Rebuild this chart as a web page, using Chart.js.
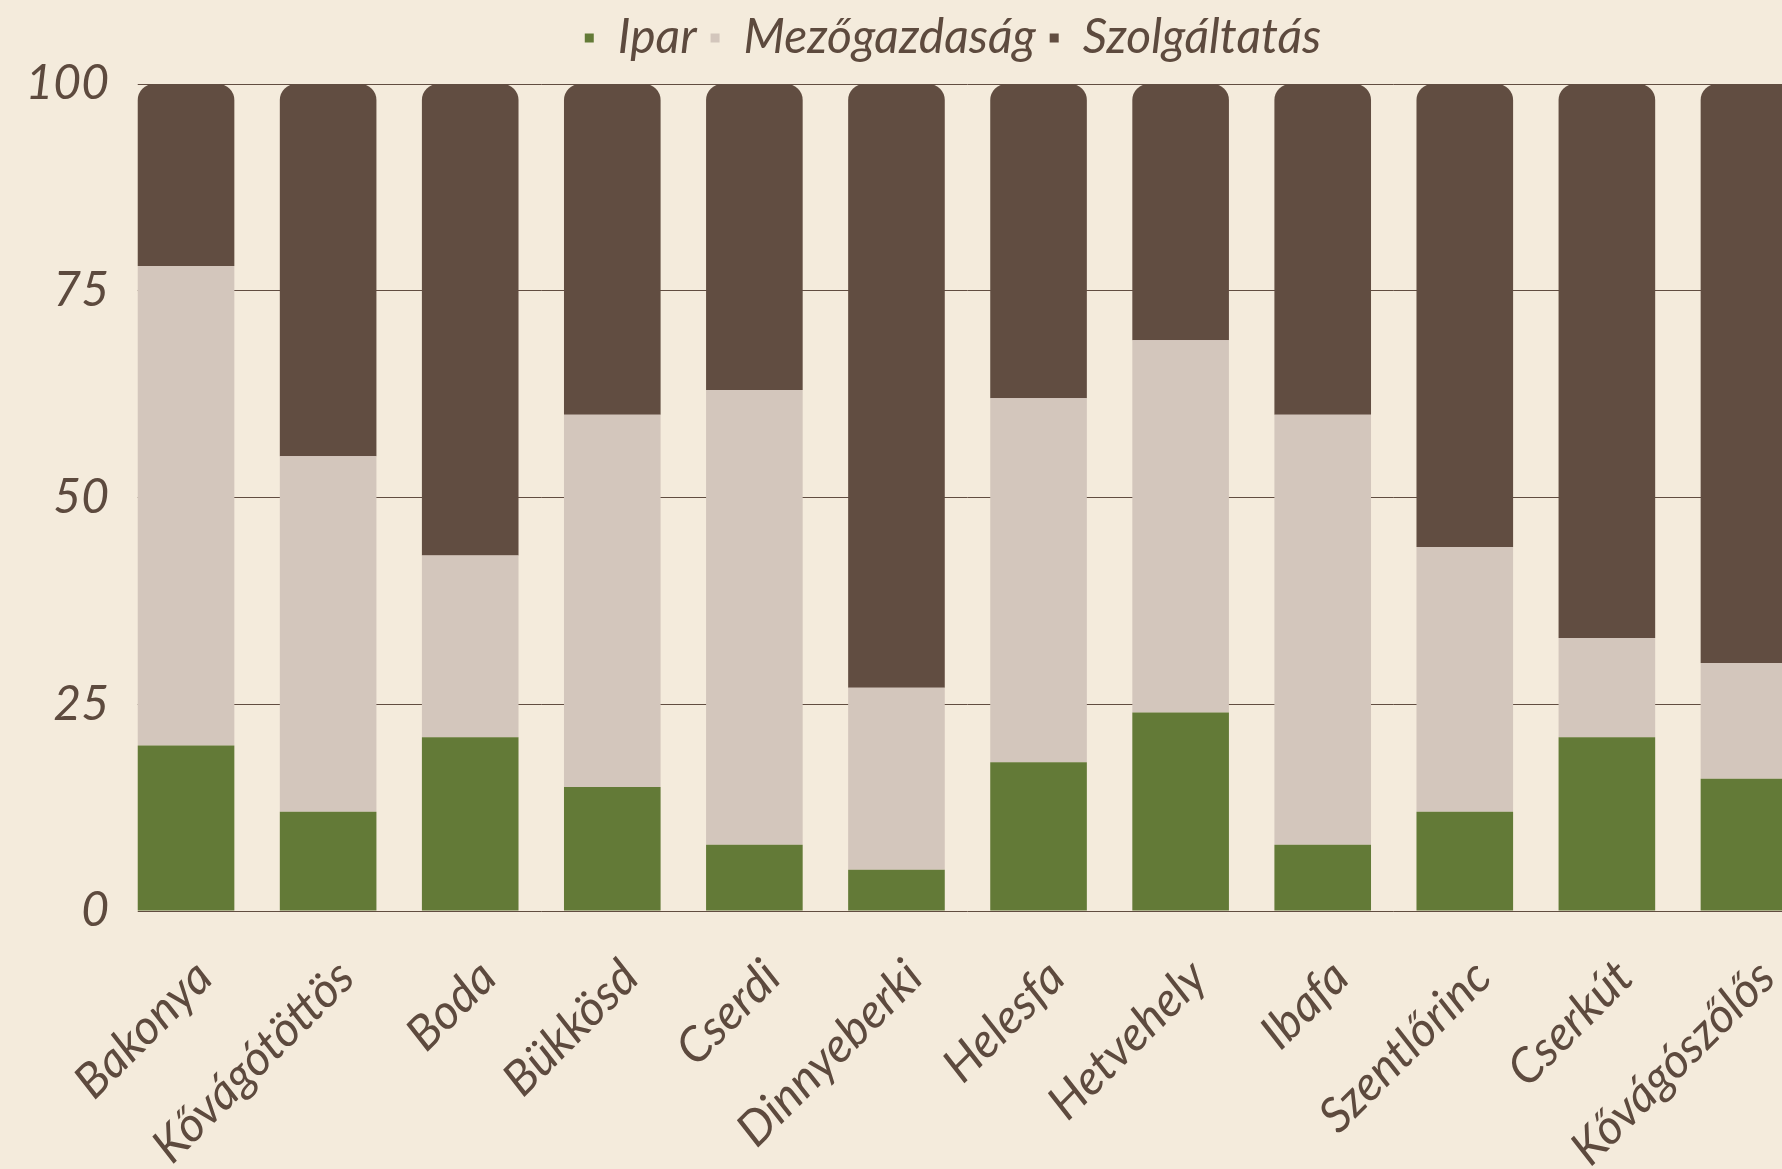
<!DOCTYPE html>
<html>
<head>
<meta charset="utf-8">
<script src="https://cdn.jsdelivr.net/npm/chart.js@4/dist/chart.umd.min.js"></script>
<style>
  html, body { margin: 0; padding: 0; background: #F4EBDC; overflow: hidden; }
  #wrap { width: 1906px; height: 1169px; position: relative; }
</style>
</head>
<body>
<div id="wrap"><canvas id="c"></canvas></div>
<script>
const categories = ["Bakonya", "Kővágótöttös", "Boda", "Bükkösd", "Cserdi", "Dinnyeberki", "Helesfa", "Hetvehely", "Ibafa", "Szentlőrinc", "Cserkút", "Kővágószőlős"];
const ipar         = [20, 12, 21, 15, 8, 5, 18, 24, 8, 12, 21, 16];
const mezogazdasag = [58, 43, 22, 45, 55, 22, 44, 45, 52, 32, 12, 14];
const szolgaltatas = [22, 45, 57, 40, 37, 73, 38, 31, 40, 56, 67, 70];
const yTicks = [0, 25, 50, 75, 100];

const TEXT = '#5D4A3E';
const FONT = 'Lato';
const FS = 48;

const tweaks = {
  id: 'tweaks',
  afterInit(chart) {
    const lg = chart.legend;
    if (lg) {
      const f = lg.fit.bind(lg);
      lg.fit = function () { f(); this.height += 12; };
    }
  },
  afterLayout(chart) {
    // legend in the reference is centred over the full (wider) canvas
    const lg = chart.legend;
    if (lg) { lg.left += 43; lg.right += 43; }
  },
  // hide the short stretch of grid left of the first bar (reference grid starts at the bar edge)
  beforeDatasetsDraw(chart) {
    const meta = chart.getDatasetMeta(0);
    if (!meta.data.length) return;
    const b = meta.data[0];
    const a = chart.chartArea;
    const ctx = chart.ctx;
    ctx.save();
    ctx.fillStyle = '#F4EBDC';
    ctx.fillRect(a.left - 1, a.top - 2, (b.x - b.width / 2) - a.left + 1, a.bottom - a.top + 4);
    ctx.restore();
  }
};

new Chart(document.getElementById('c'), {
  type: 'bar',
  data: {
    labels: categories,
    datasets: [
      { label: 'Ipar', data: ipar, backgroundColor: '#637A37', borderWidth: 0 },
      { label: 'Mezőgazdaság', data: mezogazdasag, backgroundColor: '#D3C6BC', borderWidth: 0 },
      { label: 'Szolgáltatás', data: szolgaltatas, backgroundColor: '#614D41', borderWidth: 0,
        borderRadius: { topLeft: 16, topRight: 16, bottomLeft: 0, bottomRight: 0 }, borderSkipped: 'start' }
    ]
  },
  options: {
    responsive: true,
    maintainAspectRatio: false,
    animation: false,
    layout: { padding: { top: 0, right: 86, left: 0, bottom: 0 } },
    datasets: { bar: { barPercentage: 0.68, categoryPercentage: 1.0 } },
    plugins: {
      legend: {
        position: 'top',
        labels: {
          color: TEXT,
          font: { family: FONT, size: FS, style: 'italic', weight: 400 },
          boxWidth: 9, boxHeight: 9,
          padding: 14
        }
      },
      tooltip: { enabled: false }
    },
    scales: {
      x: {
        stacked: true,
        offset: true,
        grid: { display: false },
        border: { display: false },
        ticks: {
          color: TEXT,
          font: { family: FONT, size: FS, style: 'italic', weight: 400 },
          minRotation: 45, maxRotation: 45,
          padding: 30,
          labelOffset: 18,
          autoSkip: false
        },
        afterFit(s) { s.height = 258; }
      },
      y: {
        stacked: true,
        min: 0, max: 100,
        afterBuildTicks(s) { s.ticks = yTicks.map(v => ({ value: v })); },
        grid: { color: '#614D41', lineWidth: 1, drawTicks: false },
        border: { display: false },
        ticks: {
          color: TEXT,
          font: { family: FONT, size: FS, style: 'italic', weight: 400 },
          padding: 6
        },
        afterFit(s) { s.width = 115; }
      }
    }
  },
  plugins: [tweaks]
});
</script>
</body>
</html>
